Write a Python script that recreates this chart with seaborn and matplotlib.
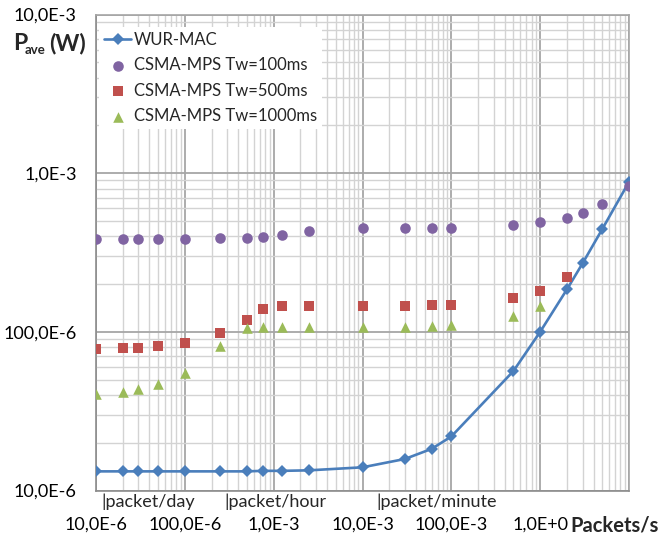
import matplotlib
matplotlib.use("Agg")
import matplotlib.pyplot as plt
import matplotlib.ticker as mticker
import matplotlib.transforms as mtransforms
import pandas as pd
import seaborn as sns

# ── Data ──────────────────────────────────────────────────────────────────────
# traffic rate, packets per second
rate = [1e-5, 2e-5, 3e-5, 5e-5, 1e-4, 2.5e-4, 5e-4, 7.5e-4, 1.25e-3, 2.5e-3,
        1e-2, 3e-2, 6e-2, 1e-1, 5e-1, 1, 2, 3, 5, 10]

# average power (W)
wur_mac = [1.32e-5, 1.32e-5, 1.32e-5, 1.32e-5, 1.32e-5, 1.32e-5, 1.32e-5, 1.33e-5, 1.33e-5, 1.34e-5,
           1.40e-5, 1.58e-5, 1.83e-5, 2.19e-5, 5.66e-5, 1.00e-4, 1.85e-4, 2.70e-4, 4.44e-4, 8.81e-4]
csma_100 = [3.84e-4, 3.84e-4, 3.84e-4, 3.84e-4, 3.87e-4, 3.91e-4, 3.93e-4, 3.95e-4, 4.06e-4, 4.29e-4,
            4.50e-4, 4.54e-4, 4.54e-4, 4.54e-4, 4.70e-4, 4.93e-4, 5.25e-4, 5.65e-4, 6.40e-4, 8.28e-4]
csma_500 = [7.76e-5, 7.87e-5, 7.90e-5, 8.10e-5, 8.49e-5, 9.80e-5, 1.19e-4, 1.40e-4, 1.46e-4, 1.46e-4,
            1.46e-4, 1.46e-4, 1.47e-4, 1.48e-4, 1.64e-4, 1.82e-4, 2.21e-4]
csma_1000 = [4.06e-5, 4.20e-5, 4.36e-5, 4.67e-5, 5.53e-5, 8.10e-5, 1.06e-4, 1.07e-4, 1.07e-4, 1.07e-4,
             1.07e-4, 1.08e-4, 1.09e-4, 1.11e-4, 1.26e-4, 1.46e-4]

series_labels = ["WUR-MAC", "CSMA-MPS Tw=100ms", "CSMA-MPS Tw=500ms", "CSMA-MPS Tw=1000ms"]

x_ticks = [1e-5, 1e-4, 1e-3, 1e-2, 1e-1, 1, 10]
x_tick_labels = ["10,0E-6", "100,0E-6", "1,0E-3", "10,0E-3", "100,0E-3", "1,0E+0", ""]
y_ticks = [1e-5, 1e-4, 1e-3, 1e-2]
y_tick_labels = ["10,0E-6", "100,0E-6", "1,0E-3", "10,0E-3"]

# reference rates marked under the axis
ref_rates = [1 / 86400, 1 / 3600, 1 / 70]
ref_labels = ["|packet/day", "|packet/hour", "|packet/minute"]

# ── Style ─────────────────────────────────────────────────────────────────────
sns.set_style("white")
plt.rcParams["font.family"] = ["Lato", "DejaVu Sans"]

BLUE, PURPLE, RED, GREEN = "#4A7EBB", "#8064A2", "#C0504D", "#9BBB59"

W, H = 666, 539
fig = plt.figure(figsize=(W / 100, H / 100), dpi=100)
ax = fig.add_axes([96 / W, 1 - 490.5 / H, (629 - 96) / W, (490.5 - 14.5) / H])

df_wur = pd.DataFrame({"rate": rate, "power": wur_mac})
df_100 = pd.DataFrame({"rate": rate[:len(csma_100)], "power": csma_100})
df_500 = pd.DataFrame({"rate": rate[:len(csma_500)], "power": csma_500})
df_1000 = pd.DataFrame({"rate": rate[:len(csma_1000)], "power": csma_1000})

sns.lineplot(data=df_wur, x="rate", y="power", ax=ax, color=BLUE, linewidth=1.9,
             marker="D", markersize=5.8, markeredgewidth=0, label=series_labels[0], zorder=3)
sns.scatterplot(data=df_100, x="rate", y="power", ax=ax, color=PURPLE, marker="o",
                s=58, linewidth=0, label=series_labels[1], zorder=4)
sns.scatterplot(data=df_500, x="rate", y="power", ax=ax, color=RED, marker="s",
                s=50, linewidth=0, label=series_labels[2], zorder=4)
sns.scatterplot(data=df_1000, x="rate", y="power", ax=ax, color=GREEN, marker="^",
                s=58, linewidth=0, label=series_labels[3], zorder=4)

ax.set_xscale("log")
ax.set_yscale("log")
ax.set_xlim(1e-5, 10)
ax.set_ylim(1e-5, 1e-2)

ax.xaxis.set_major_locator(mticker.FixedLocator(x_ticks))
ax.xaxis.set_major_formatter(mticker.FixedFormatter(x_tick_labels))
ax.yaxis.set_major_locator(mticker.FixedLocator(y_ticks))
ax.yaxis.set_major_formatter(mticker.FixedFormatter(y_tick_labels))
for axis in (ax.xaxis, ax.yaxis):
    axis.set_minor_locator(mticker.LogLocator(base=10, subs=range(2, 10), numticks=20))
    axis.set_minor_formatter(mticker.NullFormatter())

ax.tick_params(which="both", length=0)
ax.tick_params(axis="x", which="major", labelsize=13, pad=19, colors="black")
ax.tick_params(axis="y", which="major", labelsize=13, pad=14, colors="black")

ax.grid(which="major", color="#A6A6A6", linewidth=1.3)
ax.grid(which="minor", color="#D3D3D3", linewidth=1.0)
ax.set_axisbelow(True)
for side, spine in ax.spines.items():
    spine.set_visible(True)
    spine.set_color("#8C8C8C" if side in ("left", "bottom") else "#A6A6A6")
    spine.set_linewidth(1.2)

ax.set_xlabel("")
ax.set_ylabel("")

leg = ax.legend(loc="upper left", bbox_to_anchor=(0.006, 0.974), fontsize=12,
                frameon=True, fancybox=False, framealpha=1, edgecolor="white",
                borderpad=0.3, labelspacing=0.56, handlelength=1.6, handletextpad=0.2,
                borderaxespad=0)
leg.get_frame().set_linewidth(0)

# reference rate annotations just under the axis
trans = mtransforms.blended_transform_factory(ax.transData, ax.transAxes)
for xr, txt in zip(ref_rates, ref_labels):
    ax.text(xr, -0.024, txt, transform=trans, ha="left", va="center", fontsize=13,
            clip_on=False)

# axis titles, placed as in the reference
fig.text(13 / W, 1 - 50 / H, "P", fontsize=16.5, fontweight="bold", ha="left", va="baseline")
fig.text(25 / W, 1 - 54 / H, "ave", fontsize=9.5, fontweight="bold", ha="left", va="baseline")
fig.text(49 / W, 1 - 50 / H, "(W)", fontsize=16.5, fontweight="bold", ha="left", va="baseline")
fig.text(570 / W, 1 - 526 / H, "Packets/s", fontsize=14.5, fontweight="bold", ha="left", va="center")

fig.savefig("out.png", dpi=100, facecolor="white")
